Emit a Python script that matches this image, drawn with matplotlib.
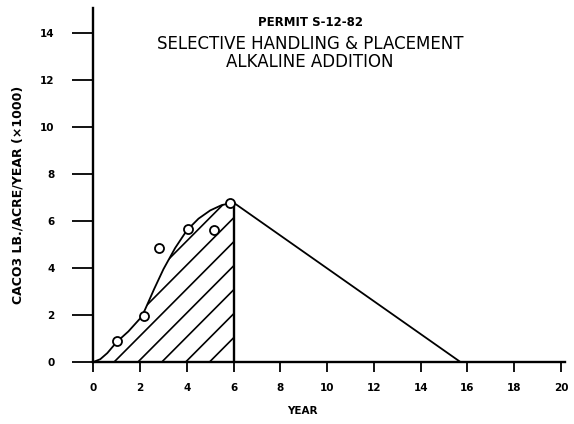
import numpy as np
import matplotlib
matplotlib.use('Agg')
import matplotlib.pyplot as plt

# smooth fitted curve
curve_x = [0.0, 0.3, 0.6, 1.0, 1.5, 2.0, 2.2, 2.4, 2.6, 3.0, 3.5, 4.0, 4.5, 5.0, 5.5, 6.0]
curve_y = [0.0, 0.12, 0.38, 0.85, 1.3, 1.85, 2.2, 2.65, 3.1, 3.95, 4.85, 5.6, 6.1, 6.45, 6.68, 6.78]

# measured points
obs_x = [1.0, 2.15, 2.8, 4.05, 5.15, 5.85]
obs_y = [0.88, 1.96, 4.85, 5.67, 5.6, 6.75]

# decline after year 6
decline_x = [6.0, 15.7]
decline_y = [6.78, 0.0]

xticks = list(range(0, 21, 2))
yticks = list(range(0, 15, 2))

title_lines = ['PERMIT S-12-82', 'SELECTIVE HANDLING & PLACEMENT', 'ALKALINE ADDITION']

fig = plt.figure(figsize=(5.74, 4.24), dpi=100)
ax = fig.add_axes([0.1625, 0.1462, 0.8210, 0.8348])

# hatched area under the curve
poly = ax.fill_between(curve_x, 0, curve_y, facecolor='none', edgecolor='none')
clip = poly.get_paths()[0]
hatch_slope = 1.0
for c in np.arange(-1.15, 5.4, 1.02):
    hx = np.array([-3.0, 8.0])
    ln, = ax.plot(hx, hatch_slope * (hx - c), color='black', lw=1.2)
    ln.set_clip_path(clip, ax.transData)

ax.plot(curve_x, curve_y, color='black', lw=1.3)
ax.plot(decline_x, decline_y, color='black', lw=1.3)
ax.plot([6, 6], [0, curve_y[-1]], color='black', lw=1.7)
ax.plot(obs_x, obs_y, linestyle='none', marker='o', ms=6.5, mfc='white', mec='black', mew=1.3, zorder=5)

ax.set_xlim(0, 20.15)
ax.set_ylim(0, 15.06)
ax.spines['top'].set_visible(False)
ax.spines['right'].set_visible(False)
ax.spines['left'].set_linewidth(1.7)
ax.spines['bottom'].set_linewidth(1.7)

ax.set_xticks(xticks)
ax.set_yticks(yticks)
ax.set_xticklabels([str(v) for v in xticks], fontsize=7.5, fontweight='bold')
ax.set_yticklabels([str(v) for v in yticks], fontsize=7.5, fontweight='bold')
ax.tick_params(axis='y', direction='out', length=15, width=1.3, pad=13)
ax.tick_params(axis='x', direction='out', length=7, width=1.3, pad=8)

fig.text(302 / 574, 1 - 411 / 424, 'YEAR', ha='center', va='center', fontsize=7.5, fontweight='bold')
fig.text(18 / 574, 1 - 195 / 424, 'CACO3 LB./ACRE/YEAR (×1000)', rotation=90,
         ha='center', va='center', fontsize=9, fontweight='bold')

fig.text(310 / 574, 1 - 23 / 424, title_lines[0], ha='center', va='center', fontsize=8.5, fontweight='bold')
fig.text(310 / 574, 1 - 44 / 424, title_lines[1], ha='center', va='center', fontsize=12)
fig.text(310 / 574, 1 - 62 / 424, title_lines[2], ha='center', va='center', fontsize=12)

fig.savefig('out.png', dpi=100)
